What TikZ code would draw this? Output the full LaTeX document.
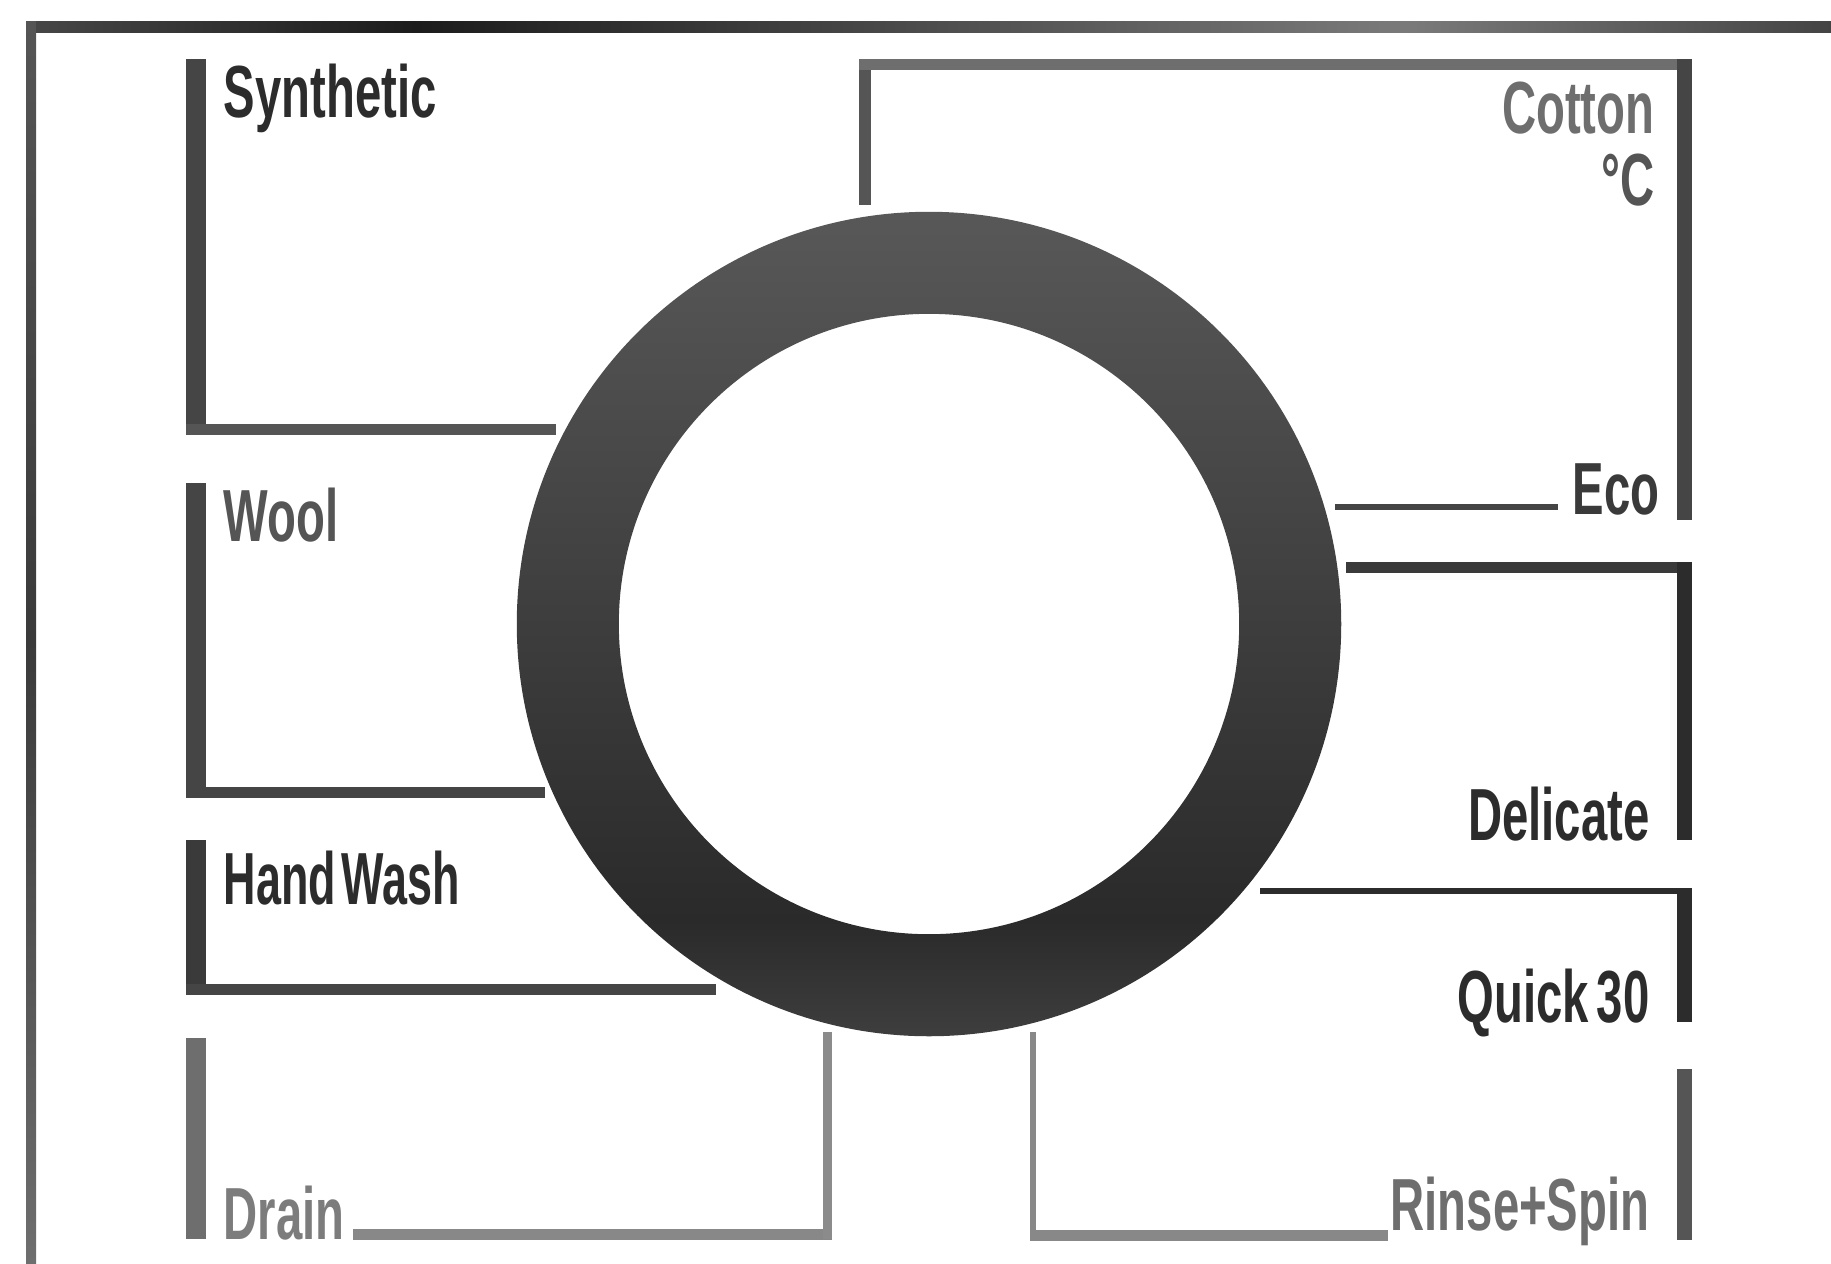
\documentclass[tikz,border=0pt]{standalone}
\usepackage{fontspec}
\newfontfamily\panelfont{Liberation Sans}[FakeStretch=0.64]
\newcommand\progfont{\panelfont\bfseries\fontsize{21pt}{21pt}\selectfont}
\usetikzlibrary{positioning,calc}

\definecolor{fr0}{HTML}{474747}
\definecolor{fr1}{HTML}{1C1C1C}
\definecolor{fr2}{HTML}{7A7A7A}
\definecolor{fr3}{HTML}{444444}
\definecolor{rtop}{HTML}{585858}
\definecolor{rlow}{HTML}{2A2A2A}
\definecolor{rbot}{HTML}{3E3E3E}
\definecolor{ink}{HTML}{2C2C2C}
\definecolor{dim}{HTML}{3A3A3A}
\definecolor{mid}{HTML}{454545}
\definecolor{soft}{HTML}{555555}
\definecolor{pale}{HTML}{6E6E6E}
\definecolor{faint}{HTML}{888888}

\pgfdeclarehorizontalshading{framebar}{100bp}{color(0bp)=(fr0); color(25bp)=(fr0);
  color(35.8bp)=(fr1); color(63.2bp)=(fr2); color(75bp)=(fr3); color(100bp)=(fr3)}
\pgfdeclareverticalshading{ringshade}{100bp}{color(0bp)=(rbot); color(25bp)=(rbot);
  color(32bp)=(rlow); color(75bp)=(rtop); color(100bp)=(rtop)}

\begin{document}
\begin{tikzpicture}[x=0.01cm,y=-0.01cm,
    prog/.style={font=\progfont,inner sep=0pt},
    wide bar/.style={line width=0.2cm},
    side bar/.style={line width=0.15cm},
    mid bar/.style={line width=0.11cm},
    thin bar/.style={line width=0.06cm}]
  \useasboundingbox (0,0) rectangle (1831,1263);
  % outer frame
  \shade[shading=framebar] (26,21) rectangle (1831,32);
  \shade[top color=soft,bottom color=pale,middle color=dim] (26,21) rectangle (36,1263);
  % dial
  \coordinate (dial) at (929,624);
  \shade[shading=ringshade,even odd rule] (dial) circle[radius=4.12cm] (dial) circle[radius=3.10cm];

  % left column
  \node[prog,anchor=base west,ink] (syn) at (223,117) {Synthetic};
  \draw[wide bar,mid] (196,59) -- (196,435);
  \draw[mid bar,soft] (186,429.5) -- (556,429.5);

  \node[prog,anchor=base west,soft] (wool) at (223,541) {Wool};
  \draw[wide bar,mid] (196,483) -- (196,798);
  \draw[mid bar,mid] (186,792.5) -- (545,792.5);

  \node[prog,anchor=base west,ink,xscale=0.95,transform shape] (hand) at (223,904) {Hand\hspace{0.06cm}Wash};
  \draw[wide bar,dim] (196,840) -- (196,995);
  \draw[mid bar,mid] (186,989) -- (716,989);

  \node[prog,anchor=base west,pale!90!white] (drain) at (223,1239) {Drain};
  \draw[wide bar,pale] (196,1038) -- (196,1239);
  \draw[mid bar,faint] (353,1234) -- (832,1234);
  \draw[mid bar,pale!80!white,line width=0.09cm] (827.5,1032) -- (827.5,1239);

  % right column
  \node[prog,anchor=base east,pale] (cot) at (1655,133) {Cotton};
  \node[prog,anchor=base east,soft] (deg) at (1655,205) {°C};
  \draw[mid bar,soft,line width=0.12cm] (865,59) -- (865,205);
  \draw[mid bar,pale] (859,64.5) -- (1692,64.5);
  \draw[side bar,mid] (1684.5,59) -- (1684.5,520);

  \node[prog,anchor=base east,dim] (eco) at (1660,514) {Eco};
  \draw[thin bar,mid] (1335,506.5) -- (1558,506.5);

  \node[prog,anchor=base east,ink] (deli) at (1650,840) {Delicate};
  \draw[mid bar,dim] (1346,567.5) -- (1692,567.5);
  \draw[side bar,ink] (1684.5,562) -- (1684.5,840);

  \node[prog,anchor=base east,ink] (quick) at (1650,1022) {Quick\hspace{0.08cm}30};
  \draw[thin bar,ink] (1260,890.5) -- (1692,890.5);
  \draw[side bar,ink] (1684.5,888) -- (1684.5,1022);

  \node[prog,anchor=base east,pale] (rinse) at (1650,1230) {Rinse+Spin};
  \draw[thin bar,faint] (1033,1032) -- (1033,1240);
  \draw[mid bar,faint] (1030,1235) -- (1388,1235);
  \draw[side bar,soft] (1684.5,1069) -- (1684.5,1240);
\end{tikzpicture}
\end{document}
